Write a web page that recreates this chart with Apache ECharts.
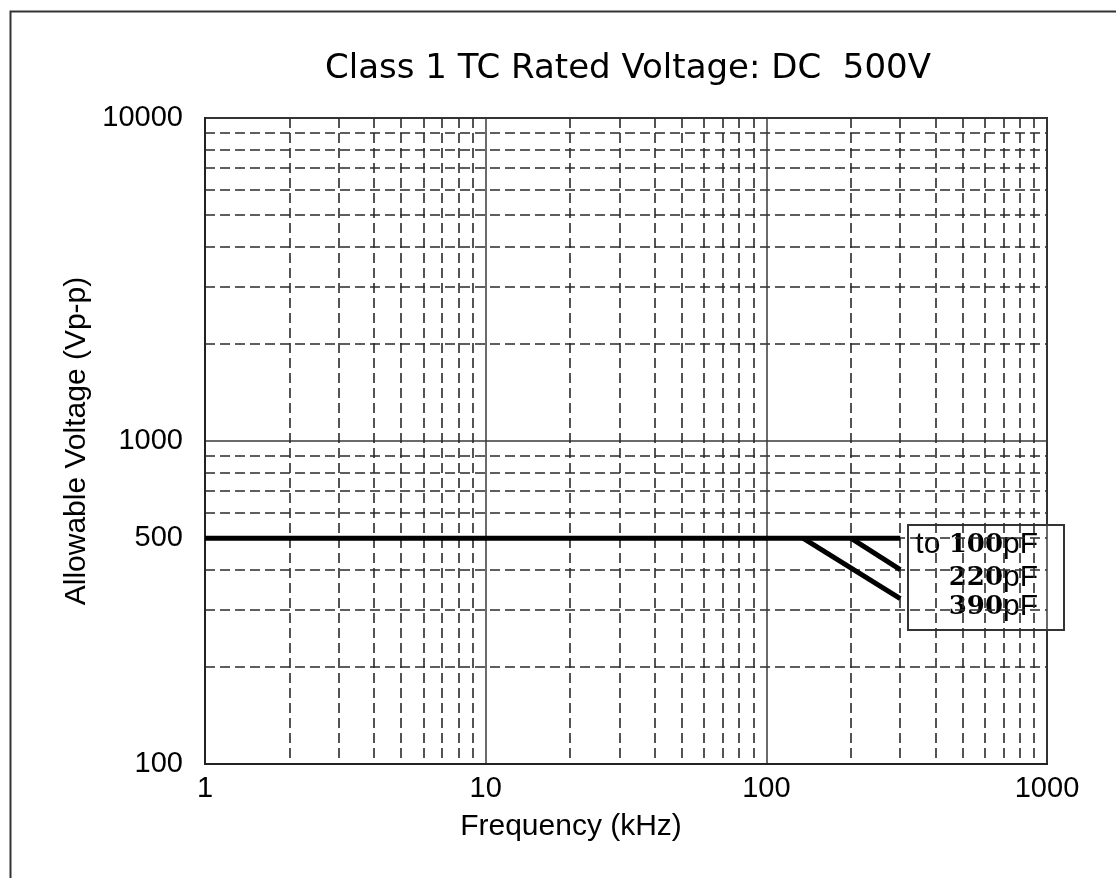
<!DOCTYPE html>
<html>
<head>
<meta charset="utf-8">
<title>Class 1 TC Rated Voltage</title>
<script src="https://cdn.jsdelivr.net/npm/echarts@6/dist/echarts.min.js"></script>
<style>
  html, body { margin: 0; padding: 0; background: #fff; }
  #chart { width: 1116px; height: 878px; }
</style>
</head>
<body>
<div id="chart"></div>
<script>
// frequency (kHz), allowable voltage (Vp-p)
const line100pF = [[1, 500], [300, 500]];
const line220pF = [[200, 500], [300, 400]];
const line390pF = [[135, 500], [300, 325]];

const xLabels = [1, 10, 100, 1000];
const yLabels = [100, 500, 1000, 10000];
// dashed minor grid
const xMinor = [2, 3, 4, 5, 6, 7, 8, 9, 20, 30, 40, 50, 60, 70, 80, 90, 200, 300, 400, 500, 600, 700, 800, 900];
const yMinor = [200, 300, 400, 500, 600, 700, 800, 900, 2000, 3000, 4000, 5000, 6000, 7000, 8000, 9000];

const SANS = 'Liberation Sans';
const chart = echarts.init(document.getElementById('chart'));

const solidGrid = { show: true, lineStyle: { color: '#3a3a3a', width: 1.5, type: 'solid' } };
const dashGrid = { show: true, lineStyle: { color: '#2a2a2a', width: 1.6, type: [10, 5] } };

const lineSeries = (name, data) => ({
  name: name,
  type: 'line',
  data: data,
  symbol: 'none',
  xAxisIndex: 0,
  yAxisIndex: 0,
  lineStyle: { color: '#000', width: 5 },
  z: 5
});

chart.setOption({
  backgroundColor: '#fff',
  animation: false,
  title: {
    text: 'Class 1 TC Rated Voltage: DC  500V',
    left: 623,
    textAlign: 'center',
    top: 47,
    textStyle: { fontFamily: 'DejaVu Sans', fontSize: 34, fontWeight: 'normal', color: '#000' }
  },
  grid: {
    left: 205, right: 69, top: 118, bottom: 114,
    show: true, borderColor: '#222', borderWidth: 2, backgroundColor: 'transparent'
  },
  xAxis: [
    {
      type: 'log', min: 1, max: 1000,
      name: 'Frequency (kHz)', nameLocation: 'middle', nameGap: 48,
      nameTextStyle: { fontFamily: SANS, fontSize: 30, color: '#000', padding: [0, 110, 0, 0] },
      axisLine: { show: true, lineStyle: { color: '#222', width: 2 } },
      axisTick: { show: false },
      axisLabel: {
        customValues: xLabels, margin: 10,
        fontFamily: SANS, fontSize: 29, color: '#000',
        formatter: v => String(Math.round(v))
      },
      splitLine: solidGrid
    },
    {
      type: 'log', min: 1, max: 1000, position: 'bottom',
      axisLine: { show: false },
      axisTick: { show: false, customValues: xMinor },
      axisLabel: { show: false },
      splitLine: dashGrid
    }
  ],
  yAxis: [
    {
      type: 'log', min: 100, max: 10000,
      name: 'Allowable Voltage (Vp-p)', nameLocation: 'middle', nameGap: 82,
      nameTextStyle: { fontFamily: SANS, fontSize: 30, color: '#000' },
      axisLine: { show: true, lineStyle: { color: '#222', width: 2 } },
      axisTick: { show: false },
      axisLabel: {
        customValues: yLabels, margin: 22,
        fontFamily: SANS, fontSize: 29, color: '#000',
        formatter: v => String(Math.round(v))
      },
      splitLine: solidGrid
    },
    {
      type: 'log', min: 100, max: 10000, position: 'left',
      axisLine: { show: false },
      axisTick: { show: false, customValues: yMinor },
      axisLabel: { show: false },
      splitLine: dashGrid
    }
  ],
  series: [
    lineSeries('to 100pF', line100pF),
    lineSeries('220pF', line220pF),
    lineSeries('390pF', line390pF)
  ],
  graphic: [
    {
      type: 'rect', left: 8, top: 9, z: 0, silent: true,
      shape: { width: 1140, height: 900 },
      style: { fill: 'none', stroke: '#333', lineWidth: 2 }
    },
    {
      type: 'group', left: 907, top: 524, z: 100,
      children: [
        {
          type: 'rect',
          shape: { x: 1, y: 1, width: 156, height: 105 },
          style: { fill: '#fff', stroke: '#333', lineWidth: 2 }
        },
        {
          type: 'text', x: 131, y: 21,
          style: {
            text: 'to {n|100}pF', align: 'right', verticalAlign: 'middle',
            fontFamily: SANS, fontSize: 30, fill: '#000',
            rich: { n: { fontFamily: 'DejaVu Serif', fontSize: 26, fontWeight: 'bold', fill: '#000' } }
          }
        },
        {
          type: 'text', x: 131, y: 54,
          style: {
            text: '{n|220}pF', align: 'right', verticalAlign: 'middle',
            fontFamily: SANS, fontSize: 30, fill: '#000',
            rich: { n: { fontFamily: 'DejaVu Serif', fontSize: 26, fontWeight: 'bold', fill: '#000' } }
          }
        },
        {
          type: 'text', x: 131, y: 83,
          style: {
            text: '{n|390}pF', align: 'right', verticalAlign: 'middle',
            fontFamily: SANS, fontSize: 30, fill: '#000',
            rich: { n: { fontFamily: 'DejaVu Serif', fontSize: 26, fontWeight: 'bold', fill: '#000' } }
          }
        }
      ]
    }
  ]
});
</script>
</body>
</html>
